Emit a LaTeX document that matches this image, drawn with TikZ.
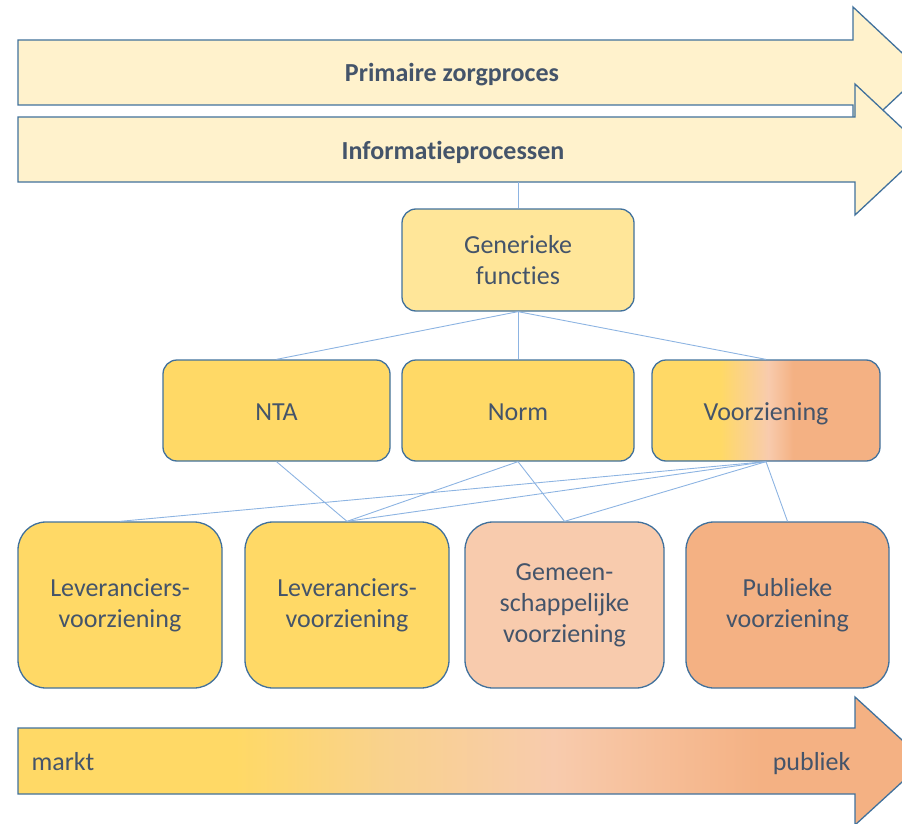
\documentclass[tikz,border=0pt]{standalone}
\usepackage{fontspec}
\setmainfont{Carlito}[Ligatures={NoCommon,NoContextual,NoRare},Contextuals=NoAlternate]
\definecolor{cYel}{HTML}{FFD966}
\definecolor{cPeach}{HTML}{F8CBAD}
\definecolor{cOr}{HTML}{F4B183}
\definecolor{cLight}{HTML}{FFF2CC}
\definecolor{cGen}{HTML}{FFE699}
\definecolor{cBorder}{HTML}{41719C}
\definecolor{cLine}{HTML}{8DB4E2}
\definecolor{cText}{HTML}{44546A}
\definecolor{cMid}{HTML}{F9D28C}
\pgfdeclarehorizontalshading{voorz}{100bp}{color(0bp)=(cYel); color(40bp)=(cYel); color(50.5bp)=(cPeach); color(56bp)=(cOr); color(100bp)=(cOr)}
\pgfdeclarehorizontalshading{markt}{100bp}{color(0bp)=(cYel); color(37bp)=(cYel); color(45bp)=(cMid); color(54.5bp)=(cPeach); color(66bp)=(cOr); color(100bp)=(cOr)}
\tikzset{
  box/.style={draw=cBorder, line width=1.3pt, rounded corners=14pt, align=center,
    text=cText, font=\fontsize{26}{31}\selectfont, inner sep=2pt},
  oneline/.style={text height=24pt, text depth=5pt},
  bigbox/.style={box, rounded corners=28pt, minimum height=166pt},
  midbox/.style={box, oneline, fill=cYel, minimum height=101pt},
  bigarrow/.style={draw=cBorder, line width=1.3pt, fill=cLight},
  arrowtext/.style={oneline, text=cText, font=\fontsize{26}{31}\selectfont\bfseries},
  plaintext/.style={oneline, text=cText, font=\fontsize{26}{31}\selectfont},
  conn/.style={draw=cLine, line width=0.9pt}
}
\begin{document}
\begin{tikzpicture}[x=1pt,y=-1pt]
\useasboundingbox (0,0) rectangle (902,824);
\clip (0,0) rectangle (902,824);
% top arrows
\draw[bigarrow] (18,40) -- (853,40) -- (853,7) -- (923,72.5) -- (853,138) -- (853,105) -- (18,105) -- cycle;
\node[arrowtext] (prim) at (452,72.5) {Primaire zorgproces};
\draw[bigarrow] (18,117) -- (855,117) -- (855,84) -- (925,149.5) -- (855,215) -- (855,182) -- (18,182) -- cycle;
\node[arrowtext] (info) at (453,149.5) {Informatieprocessen};
\coordinate (infobot) at (518,182);
% bottom arrow
\draw[draw=cBorder, line width=1.3pt, shade, shading=markt] (18,728) -- (855,728) -- (855,697) -- (925,761) -- (855,825) -- (855,794) -- (18,794) -- cycle;
\node[plaintext, anchor=west] (markt) at (28,761) {markt};
\node[plaintext, anchor=east] (publiek) at (854,761) {publiek};
% generic
\node[box, fill=cGen, minimum width=232pt, minimum height=102pt] (gen) at (518,260) {Generieke\\functies};
% middle row
\node[midbox, minimum width=227pt] (nta) at (276.5,410.5) {NTA};
\node[midbox, minimum width=232pt] (norm) at (518,410.5) {Norm};
\node[box, oneline, shade, shading=voorz, minimum width=228pt, minimum height=101pt] (voorz) at (766,410.5) {Voorziening};
% bottom row
\node[bigbox, fill=cYel, minimum width=204pt] (lev1) at (120,605) {Leveranciers-\\voorziening};
\node[bigbox, fill=cYel, minimum width=204pt] (lev2) at (347,605) {Leveranciers-\\voorziening};
\node[bigbox, fill=cPeach, minimum width=199pt] (gem) at (564.5,605) {Gemeen-\\schappelijke\\voorziening};
\node[bigbox, fill=cOr, minimum width=203pt] (pub) at (787.5,605) {Publieke\\voorziening};
% connectors
\draw[conn] (infobot) -- (gen.north);
\draw[conn] (gen.south) -- (nta.north);
\draw[conn] (gen.south) -- (norm.north);
\draw[conn] (gen.south) -- (voorz.north);
\draw[conn] (nta.south) -- (lev2.north);
\draw[conn] (norm.south) -- (lev2.north);
\draw[conn] (norm.south) -- (gem.north);
\draw[conn] (voorz.south) -- (lev1.north);
\draw[conn] (voorz.south) -- (lev2.north);
\draw[conn] (voorz.south) -- (gem.north);
\draw[conn] (voorz.south) -- (pub.north);
\end{tikzpicture}
\end{document}
